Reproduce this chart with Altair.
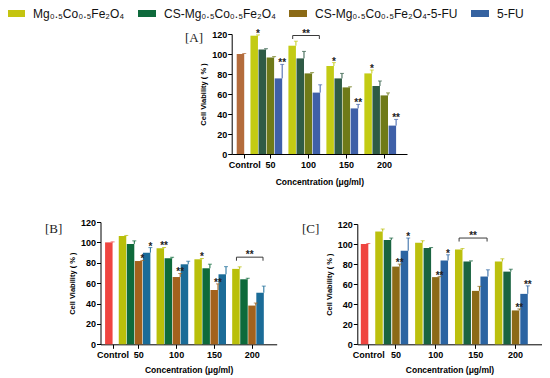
import json
import altair as alt
import pandas as pd

# ---------------- data ----------------
groups = ["Control", "50", "100", "150", "200"]
series = ["Mg₀.₅Co₀.₅Fe₂O₄", "CS-Mg₀.₅Co₀.₅Fe₂O₄", "CS-Mg₀.₅Co₀.₅Fe₂O₄-5-FU", "5-FU"]
control_value = 100
control_err = 0.5

# Panel [A]  (concentrations 50, 100, 150, 200)
a_mg = [118.3, 108.3, 88.0, 80.6]
a_cs = [104.5, 95.6, 75.6, 68.0]
a_csfu = [96.6, 80.6, 66.6, 58.6]
a_fu = [75.6, 61.4, 45.6, 28.4]
a_mg_err = [0.8, 4.5, 3.4, 3.4]
a_cs_err = [0.8, 7.0, 5.0, 5.0]
a_csfu_err = [0.8, 0.8, 0.6, 2.5]
a_fu_err = [14.0, 7.8, 4.0, 6.2]
a_mg_sig = ["*", "", "*", "*"]
a_cs_sig = ["", "", "", ""]
a_csfu_sig = ["", "", "", ""]
a_fu_sig = ["**", "", "**", "**"]
a_bracket = ["100", 118.5, "**"]

# Panel [B]
b_mg = [106.2, 94.2, 83.4, 74.0]
b_cs = [98.5, 84.4, 74.6, 63.8]
b_csfu = [81.7, 66.0, 53.3, 38.0]
b_fu = [89.9, 78.5, 68.7, 50.6]
b_mg_err = [0.6, 0.8, 0.8, 2.0]
b_cs_err = [3.0, 1.0, 4.0, 1.0]
b_csfu_err = [0.6, 3.5, 6.0, 2.5]
b_fu_err = [5.0, 3.0, 7.5, 6.5]
b_mg_sig = ["", "**", "*", ""]
b_cs_sig = ["", "", "", ""]
b_csfu_sig = ["*", "**", "**", ""]
b_fu_sig = ["*", "", "", ""]
b_bracket = ["200", 85.5, "**"]

# Panel [C]
c_mg = [112.5, 101.3, 94.5, 82.6]
c_cs = [104.0, 96.0, 82.6, 72.5]
c_csfu = [77.5, 67.0, 53.3, 33.8]
c_fu = [93.3, 83.6, 67.6, 50.3]
c_mg_err = [2.5, 2.0, 1.0, 2.7]
c_cs_err = [2.0, 0.5, 0.6, 2.4]
c_csfu_err = [2.5, 0.5, 4.5, 1.5]
c_fu_err = [12.7, 5.7, 6.7, 8.0]
c_mg_sig = ["", "", "", ""]
c_cs_sig = ["", "", "", ""]
c_csfu_sig = ["**", "**", "", "**"]
c_fu_sig = ["*", "*", "", "**"]
c_bracket = ["150", 106.0, "**"]

# ---------------- styling / layout ----------------
legend_colors = ["#c4c410", "#0e6a3c", "#8b6a16", "#3562a0"]
a_colors = ["#c3cb14", "#2f5b45", "#6f7a18", "#3f60a8", "#b46c3c"]
b_colors = ["#b9bf0a", "#0e6a3b", "#a3621d", "#1b6c98", "#ef4540"]
c_colors = ["#bcc00e", "#1a6440", "#8c6a18", "#2b64a2", "#ef4540"]

GROUP_GAP = 0.7  # gap between bar groups, in bar-slot units
BAR_W = 7.5
SANS = "Liberation Sans"
PAD = {"left": 5, "top": 8, "right": 5, "bottom": 10}
OX, OY = 8 + PAD["left"], 8 + PAD["top"]          # plot origin on the page
CHART_W = 524
CHART_H = 352


def px(v):
    return v - OX


def py(v):
    return v - OY


def slot(gi, si):
    if gi == 0:
        return 0.0
    return round(1 + GROUP_GAP + (gi - 1) * (4 + GROUP_GAP) + si, 3)


tick_vals = [0.0] + [round(slot(g, 0) + 1.5, 3) for g in range(1, 5)]
label_expr = "%s[indexof(%s, datum.value)]" % (json.dumps(groups), json.dumps(tick_vals))


def make_panel(vals, errs, sigs, bracket, colors, x_dom, x_pix, y_pix, title_pad):
    x_rng = [px(x_pix[0]), px(x_pix[1])]
    y_rng = [py(y_pix[0]), py(y_pix[1])]
    rows = [dict(series="Control", pos=0.0, value=control_value,
                 top=control_value + control_err, sig="")]
    for si, s in enumerate(series):
        for gi in range(1, 5):
            v = vals[si][gi - 1]
            e = errs[si][gi - 1]
            rows.append(dict(series=s, pos=slot(gi, si), value=v, top=v + e,
                             sig=sigs[si][gi - 1]))
    df = pd.DataFrame(rows)

    g = groups.index(bracket[0])
    bx1 = slot(g, 0) - 0.4
    bx2 = slot(g, 3) - 0.1
    by = bracket[1]
    seg = pd.DataFrame([
        dict(xa=bx1, xb=bx2, ya=by, yb=by),
        dict(xa=bx1, xb=bx1, ya=by - 3.5, yb=by),
        dict(xa=bx2, xb=bx2, ya=by - 3.5, yb=by),
    ])
    btxt = pd.DataFrame([dict(xc=(bx1 + bx2) / 2, y=by, t=bracket[2])])

    xs = alt.Scale(domain=x_dom, range=x_rng, nice=False, zero=False)
    ys = alt.Scale(domain=[0, 120], range=y_rng, nice=False, zero=False)
    cs = alt.Scale(domain=series + ["Control"], range=colors)

    x_axis = alt.Axis(orient="bottom", offset=y_rng[0] - CHART_H, values=tick_vals,
                      labelExpr=label_expr, title="Concentration (μg/ml)", grid=False,
                      labelFlush=False, labelOverlap=False, labelAngle=0,
                      domainColor="#000", tickColor="#000", tickSize=4,
                      labelFont=SANS, labelFontSize=9, labelFontWeight="bold",
                      labelColor="#000", labelPadding=2,
                      titleFont=SANS, titleFontSize=8.5, titleFontWeight="bold",
                      titleColor="#000", titlePadding=title_pad)
    y_axis = alt.Axis(orient="left", offset=-x_rng[0], values=[0, 20, 40, 60, 80, 100, 120],
                      title="Cell Viability ( % )", grid=False,
                      domainColor="#000", tickColor="#000", tickSize=4,
                      labelFont=SANS, labelFontSize=9, labelFontWeight="bold",
                      labelColor="#000", labelPadding=1,
                      titleFont=SANS, titleFontSize=7.5, titleFontWeight="bold",
                      titleColor="#000", titlePadding=4)

    base = alt.Chart(df)
    color = alt.Color("series:N", scale=cs, legend=None)
    bars = base.mark_bar(width=BAR_W, xOffset=-BAR_W / 2).encode(
        x=alt.X("pos:Q", scale=xs, axis=x_axis),
        y=alt.Y("value:Q", scale=ys, axis=y_axis),
        color=color,
    )
    err = base.mark_rule(strokeWidth=1).encode(
        x=alt.X("pos:Q", scale=xs),
        y=alt.Y("value:Q", scale=ys),
        y2="top:Q",
        color=color,
    )
    caps = base.mark_tick(orient="horizontal", size=4, thickness=1).encode(
        x=alt.X("pos:Q", scale=xs),
        y=alt.Y("top:Q", scale=ys),
        color=color,
    )
    stars = base.mark_text(font=SANS, fontSize=10, fontWeight="bold", color="#222",
                           baseline="alphabetic", dy=2).encode(
        x=alt.X("pos:Q", scale=xs),
        y=alt.Y("top:Q", scale=ys),
        text="sig:N",
    )
    br = alt.Chart(seg).mark_rule(color="#3a3a3a", strokeWidth=1).encode(
        x=alt.X("xa:Q", scale=xs), x2="xb:Q",
        y=alt.Y("ya:Q", scale=ys), y2="yb:Q",
    )
    brt = alt.Chart(btxt).mark_text(font=SANS, fontSize=10, fontWeight="bold", color="#222",
                                    baseline="alphabetic", dy=1).encode(
        x=alt.X("xc:Q", scale=xs),
        y=alt.Y("y:Q", scale=ys),
        text="t:N",
    )
    return alt.layer(bars, err, caps, stars, br, brt)


# pixel extents of each panel's plot area on the page (x: left,right ; y: zero,top)
panel_a = make_panel([a_mg, a_cs, a_csfu, a_fu],
                     [a_mg_err, a_cs_err, a_csfu_err, a_fu_err],
                     [a_mg_sig, a_cs_sig, a_csfu_sig, a_fu_sig],
                     a_bracket, a_colors, [-0.93, 19.53], [231.7, 407.0], [154.0, 34.0], 8)
panel_b = make_panel([b_mg, b_cs, b_csfu, b_fu],
                     [b_mg_err, b_cs_err, b_csfu_err, b_fu_err],
                     [b_mg_sig, b_cs_sig, b_csfu_sig, b_fu_sig],
                     b_bracket, b_colors, [-0.88, 19.78], [100.5, 276.7], [344.3, 222.0], 6)
panel_c = make_panel([c_mg, c_cs, c_csfu, c_fu],
                     [c_mg_err, c_cs_err, c_csfu_err, c_fu_err],
                     [c_mg_sig, c_cs_sig, c_csfu_sig, c_fu_sig],
                     c_bracket, c_colors, [-0.71, 19.85], [357.3, 541.7], [344.3, 224.0], 6)

legend_layer = alt.Chart(pd.DataFrame({"series": series})).mark_square(
    filled=True, opacity=0).encode(
    color=alt.Color("series:N", scale=alt.Scale(domain=series, range=legend_colors),
                    legend=alt.Legend(orient="none", legendX=px(7), legendY=py(13.5) - 9,
                                      direction="horizontal", columns=4, title=None,
                                      symbolType="M-1,-0.39H1V0.39H-1Z", symbolSize=324,
                                      symbolStrokeWidth=0, symbolOpacity=1,
                                      labelFont=SANS, labelFontSize=12, labelColor="#111",
                                      labelOffset=8, columnPadding=13, padding=0,
                                      labelLimit=300))
)

one = pd.DataFrame({"k": [0]})
panel_labels = [
    alt.Chart(one).mark_text(font="Liberation Serif", fontSize=13, color="#222",
                             align="left", baseline="middle").encode(
        x=alt.value(px(lx)), y=alt.value(py(ly)), text=alt.value(t))
    for t, lx, ly in [("[A]", 185, 38), ("[B]", 45, 229), ("[C]", 302, 228.5)]
]

chart = alt.layer(legend_layer, panel_a, panel_b, panel_c, *panel_labels).resolve_scale(
    x="independent", y="independent", color="independent"
).properties(
    width=CHART_W, height=CHART_H, padding=PAD,
    autosize=alt.AutoSizeParams(type="none"),
    background="white",
).configure_view(stroke=None)

chart.save("out.html", embed_options={"renderer": "svg", "actions": False})
